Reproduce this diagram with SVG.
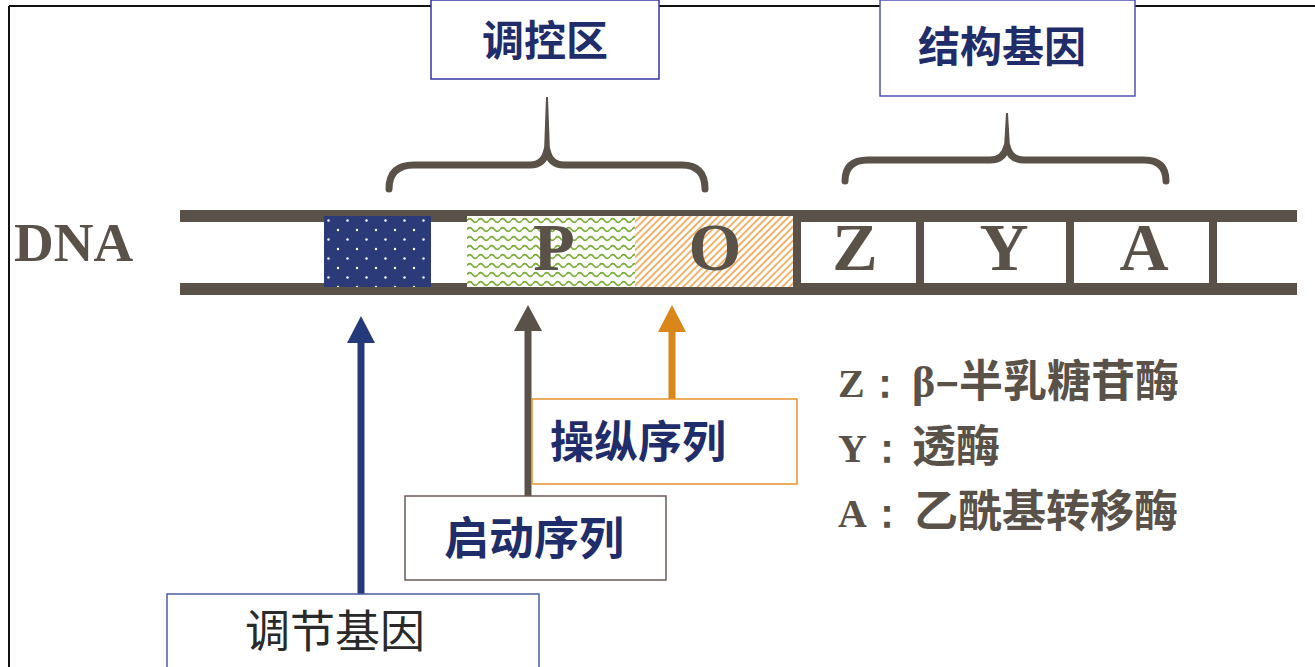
<svg xmlns="http://www.w3.org/2000/svg" width="1315" height="667" viewBox="0 0 1315 667">
<defs>
<style>
.cjkb{font-family:"Noto Sans CJK SC","Noto Sans",sans-serif;font-weight:700;fill:#1f2d6b}
.cjkl{font-family:"Noto Sans CJK SC","Noto Sans",sans-serif;font-weight:700;fill:#5a5148}
.ser{font-family:"Liberation Serif",serif;font-weight:700;fill:#5a5148}
.rail{fill:#5a5148}
.brace{fill:none;stroke:#5a5148;stroke-width:7;stroke-linecap:round;stroke-linejoin:round}
</style>
<pattern id="dots" patternUnits="userSpaceOnUse" x="324" y="216" width="19" height="19">
<rect width="19" height="19" fill="#2b3a78"/>
<circle cx="4.5" cy="4.5" r="1.2" fill="#ffffff"/>
<circle cx="14" cy="14" r="1.2" fill="#ffffff"/>
</pattern>
<pattern id="waves" patternUnits="userSpaceOnUse" x="467" y="216" width="11" height="9">
<rect width="11" height="9" fill="#ffffff"/>
<path d="M0,4.5 Q2.75,0.8 5.5,4.5 T11,4.5" fill="none" stroke="#78ad36" stroke-width="1.6"/>
</pattern>
<pattern id="hatch" patternUnits="userSpaceOnUse" width="5" height="5" patternTransform="rotate(45)">
<rect width="5" height="5" fill="#ffffff"/>
<line x1="1" y1="0" x2="1" y2="5" stroke="#ec9a3c" stroke-width="1.5"/>
</pattern>
</defs>
<rect width="1315" height="667" fill="#ffffff"/>
<g id="frame">
<line x1="9" y1="6" x2="1315" y2="6" stroke="#111" stroke-width="2"/>
<line x1="9" y1="6" x2="9" y2="667" stroke="#111" stroke-width="2"/>
</g>

<g id="dna">
<text class="ser" x="14" y="261" font-size="55">DNA</text>
<rect class="rail" x="180" y="210" width="1117" height="12"/>
<rect class="rail" x="180" y="283" width="1117" height="12"/>
<rect x="324" y="216" width="107" height="71" fill="url(#dots)"/>
<rect x="467" y="216" width="168" height="71" fill="url(#waves)"/>
<rect x="635" y="216" width="158" height="71" fill="url(#hatch)"/>
<rect class="rail" x="793" y="216" width="8" height="72"/>
<rect class="rail" x="916" y="216" width="8" height="72"/>
<rect class="rail" x="1066" y="216" width="8" height="72"/>
<rect class="rail" x="1209" y="216" width="8" height="72"/>
<g text-anchor="middle" font-size="68">
<text class="ser" x="554" y="270">P</text>
<text class="ser" x="715" y="270">O</text>
<text class="ser" x="855" y="270">Z</text>
<text class="ser" x="1004" y="270">Y</text>
<text class="ser" x="1144" y="270">A</text>
</g>
</g>

<g id="regulatory-region">
<rect x="431" y="0" width="228" height="79" fill="#ffffff" stroke="#3535a5" stroke-width="1.5"/>
<text class="cjkb" x="545" y="56" font-size="42" text-anchor="middle">调控区</text>
</g>
<g id="structural-genes">
<rect x="880" y="0" width="255" height="96" fill="#ffffff" stroke="#5252b0" stroke-width="1.5"/>
<text class="cjkb" x="1002" y="62" font-size="42" text-anchor="middle">结构基因</text>
</g>

<g id="braces">
<path class="brace" d="M389,189 Q389,165 414,165 L530,165 Q544,165 547,150 Q550,165 564,165 L682,165 Q705,165 705,189"/>
<polygon points="544,152 550,152 548,97 546,97" fill="#5a5148"/>
<path class="brace" d="M845,181 Q845,160 868,160 L990,160 Q1004,160 1007,146 Q1010,160 1024,160 L1144,160 Q1166,160 1166,181"/>
<polygon points="1004,148 1010,148 1008,113 1006,113" fill="#5a5148"/>
</g>

<g id="connectors">
<line x1="361" y1="594" x2="361" y2="340" stroke="#253a7a" stroke-width="7"/>
<polygon points="361,316 375,343 347,343" fill="#253a7a"/>
<line x1="528" y1="496" x2="528" y2="328" stroke="#5a5148" stroke-width="7"/>
<polygon points="528,305 542,331 514,331" fill="#5a5148"/>
<line x1="672" y1="399" x2="672" y2="328" stroke="#d9861a" stroke-width="7"/>
<polygon points="672,305 686,332 658,332" fill="#d9861a"/>
</g>

<g id="operator">
<rect x="532" y="399" width="265" height="85" fill="#ffffff" stroke="#e8922e" stroke-width="1.5"/>
<text class="cjkb" x="550" y="458" font-size="44">操纵序列</text>
</g>
<g id="promoter">
<rect x="405" y="496" width="261" height="84" fill="#ffffff" stroke="#6b5a55" stroke-width="1.5"/>
<text class="cjkb" x="444" y="555" font-size="45">启动序列</text>
</g>
<g id="regulator-gene">
<rect x="167" y="594" width="372" height="80" fill="#ffffff" stroke="#4a5fa0" stroke-width="1.5"/>
<text x="245" y="648" font-size="45" fill="#2a2a2a" font-family="Noto Sans CJK SC, sans-serif" font-weight="400">调节基因</text>
</g>

<g id="legend">
<text x="838" y="397" font-size="44"><tspan class="ser" font-size="40">Z：</tspan><tspan class="ser" x="912" font-size="44">β</tspan><tspan class="cjkl" font-size="44">–半乳糖苷酶</tspan></text>
<text x="838" y="462" font-size="44"><tspan class="ser" font-size="40">Y：</tspan><tspan class="cjkl" x="912">透酶</tspan></text>
<text x="838" y="527" font-size="44"><tspan class="ser" font-size="40">A：</tspan><tspan class="cjkl" x="914">乙酰基转移酶</tspan></text>
</g>
</svg>
